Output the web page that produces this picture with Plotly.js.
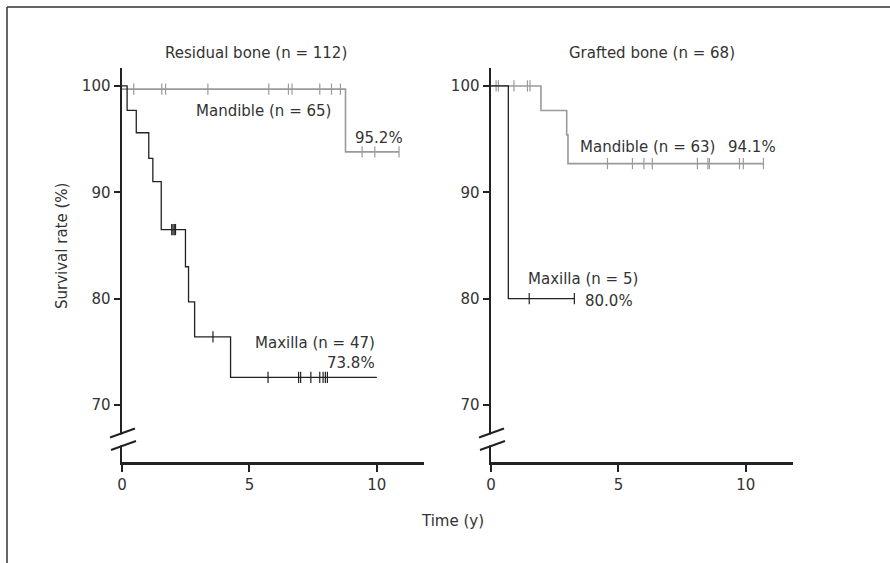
<!DOCTYPE html>
<html>
<head>
<meta charset="utf-8">
<script src="https://cdn.plot.ly/plotly-3.0.1.min.js"></script>
<style>html,body{margin:0;padding:0;background:#fff;}#chart{width:890px;height:563px;}</style>
</head>
<body>
<div id="chart"></div>
<script>
// ---- Data ----
// Residual bone, Maxilla (n = 47): step times (y) and survival (%)
const resMaxT = [0, 0.20, 0.56, 1.05, 1.21, 1.54, 2.49, 2.61, 2.85, 4.26, 10.0];
const resMaxS = [100, 97.7, 95.6, 93.2, 91.0, 86.5, 83.0, 79.7, 76.4, 72.6, 72.6];
const resMaxCens = [1.95, 2.0, 2.05, 2.1, 3.57, 5.73, 6.93, 7.01, 7.41, 7.76, 7.89, 7.98, 8.06];
// Residual bone, Mandible (n = 65)
const resManT = [0, 8.77, 10.87];
const resManS = [99.7, 93.8, 93.8];
const resManCens = [0.46, 1.56, 1.71, 3.37, 5.76, 6.53, 6.67, 7.76, 8.22, 8.57, 9.42, 9.92, 10.87];
// Grafted bone, Mandible (n = 63)
const grfManT = [0, 1.96, 2.97, 3.02, 10.69];
const grfManS = [100, 97.7, 95.4, 92.7, 92.7];
const grfManCens = [0.20, 0.29, 0.90, 1.43, 1.53, 4.57, 5.55, 6.00, 6.33, 8.10, 8.51, 8.57, 9.75, 9.90, 10.69];
// Grafted bone, Maxilla (n = 5)
const grfMaxT = [0, 0.68, 3.27];
const grfMaxS = [100, 80.0, 80.0];
const grfMaxCens = [1.50, 3.27];

const panelTitles = ["Residual bone (n = 112)", "Grafted bone (n = 68)"];
const yTicks = [70, 80, 90, 100];
const xTicks = [0, 5, 10];

// ---- helpers ----
function stepAt(T, S, t) {
  let v = S[0];
  for (let i = 0; i < T.length; i++) { if (T[i] <= t) v = S[i]; }
  return v;
}
const BLACK = '#222222', GRAY = '#9a9a9a', TXT = '#333333';
const FONT = 'DejaVu Sans, Verdana, sans-serif';

function curve(T, S, color, w, xa, ya) {
  return {x: T, y: S, type: 'scatter', mode: 'lines', line: {shape: 'hv', color: color, width: w},
          xaxis: xa, yaxis: ya, hoverinfo: 'skip', showlegend: false, cliponaxis: false};
}
function cens(T, S, C, color, xa, ya) {
  return {x: C, y: C.map(t => stepAt(T, S, t)), type: 'scatter', mode: 'markers',
          marker: {symbol: 'line-ns-open', size: 8, color: color, line: {color: color, width: 1.2}},
          xaxis: xa, yaxis: ya, hoverinfo: 'skip', showlegend: false, cliponaxis: false};
}

const traces = [
  curve(resManT, resManS, GRAY, 1.6, 'x', 'y'),
  cens(resManT, resManS, resManCens, GRAY, 'x', 'y'),
  curve(resMaxT, resMaxS, BLACK, 1.3, 'x', 'y'),
  cens(resMaxT, resMaxS, resMaxCens, BLACK, 'x', 'y'),
  curve(grfManT, grfManS, GRAY, 1.6, 'x2', 'y2'),
  cens(grfManT, grfManS, grfManCens, GRAY, 'x2', 'y2'),
  curve(grfMaxT, grfMaxS, BLACK, 1.3, 'x2', 'y2'),
  cens(grfMaxT, grfMaxS, grfMaxCens, BLACK, 'x2', 'y2')
];

const W = 890, H = 563;
const px = v => v / W, py = v => 1 - v / H;

function xax(d0, d1, anchor) {
  return {domain: [px(d0), px(d1)], range: [0, 11.85], anchor: anchor, tickvals: xTicks,
          showline: true, linecolor: BLACK, linewidth: 2.5, ticks: 'outside', ticklen: 7,
          tickwidth: 2, tickcolor: BLACK, showgrid: false, zeroline: false, fixedrange: true,
          tickfont: {family: FONT, size: 15, color: TXT}};
}
function yax(anchor) {
  return {domain: [py(462), py(68)], range: [64.64, 101.69], anchor: anchor, tickvals: yTicks,
          showline: true, linecolor: BLACK, linewidth: 2.5, ticks: 'outside', ticklen: 6,
          tickwidth: 2, tickcolor: BLACK, showgrid: false, zeroline: false, fixedrange: true,
          tickfont: {family: FONT, size: 15, color: TXT}};
}

const shapes = [
  // outer frame (top and left)
  {type: 'line', xref: 'paper', yref: 'paper', x0: px(7), x1: 1, y0: py(7), y1: py(7), line: {color: '#333', width: 1.5}},
  {type: 'line', xref: 'paper', yref: 'paper', x0: px(7), x1: px(7), y0: 0, y1: py(7), line: {color: '#333', width: 1.5}}
];
[122, 491].forEach(ax => {
  shapes.push({type: 'line', xref: 'paper', yref: 'paper', x0: px(ax), x1: px(ax), y0: py(434.5), y1: py(445.5), line: {color: '#fff', width: 5}});
  shapes.push({type: 'line', xref: 'paper', yref: 'paper', x0: px(ax - 12), x1: px(ax + 13), y0: py(437.5), y1: py(428.5), line: {color: BLACK, width: 2}});
  shapes.push({type: 'line', xref: 'paper', yref: 'paper', x0: px(ax - 11), x1: px(ax + 14), y0: py(450), y1: py(441), line: {color: BLACK, width: 2}});
});

const af = {family: FONT, size: 15, color: TXT};
const annotations = [
  {xref: 'paper', yref: 'paper', x: px(256), y: py(53), text: panelTitles[0], showarrow: false, xanchor: 'center', yanchor: 'middle', font: af},
  {xref: 'paper', yref: 'paper', x: px(652), y: py(53), text: panelTitles[1], showarrow: false, xanchor: 'center', yanchor: 'middle', font: af},
  {xref: 'paper', yref: 'paper', x: px(62), y: py(246), text: 'Survival rate (%)', textangle: -90, showarrow: false, xanchor: 'center', yanchor: 'middle', font: af},
  {xref: 'paper', yref: 'paper', x: px(452), y: py(521), text: 'Time (y)', showarrow: false, xanchor: 'center', yanchor: 'middle', font: af},
  {xref: 'x', yref: 'y', x: 5.54, y: 97.6, text: 'Mandible (n = 65)', showarrow: false, xanchor: 'center', yanchor: 'middle', font: af},
  {xref: 'x', yref: 'y', x: 9.08, y: 95.1, text: '95.2%', showarrow: false, xanchor: 'left', yanchor: 'middle', font: af},
  {xref: 'x', yref: 'y', x: 10.01, y: 75.85, text: 'Maxilla (n = 47)', showarrow: false, xanchor: 'right', yanchor: 'middle', font: af},
  {xref: 'x', yref: 'y', x: 10.01, y: 73.95, text: '73.8%', showarrow: false, xanchor: 'right', yanchor: 'middle', font: af},
  {xref: 'x2', yref: 'y2', x: 3.42, y: 94.26, text: 'Mandible (n = 63)', showarrow: false, xanchor: 'left', yanchor: 'middle', font: af},
  {xref: 'x2', yref: 'y2', x: 9.23, y: 94.26, text: '94.1%', showarrow: false, xanchor: 'left', yanchor: 'middle', font: af},
  {xref: 'x2', yref: 'y2', x: 1.37, y: 81.82, text: 'Maxilla (n = 5)', showarrow: false, xanchor: 'left', yanchor: 'middle', font: af},
  {xref: 'x2', yref: 'y2', x: 3.62, y: 79.8, text: '80.0%', showarrow: false, xanchor: 'left', yanchor: 'middle', font: af}
];

const layout = {
  width: W, height: H, margin: {l: 0, r: 0, t: 0, b: 0},
  paper_bgcolor: '#fff', plot_bgcolor: '#fff', showlegend: false,
  font: {family: FONT, color: TXT},
  xaxis: xax(122, 424, 'y'), yaxis: yax('x'),
  xaxis2: xax(491, 793, 'y2'), yaxis2: yax('x2'),
  shapes: shapes, annotations: annotations
};
Plotly.newPlot('chart', traces, layout, {displayModeBar: false, staticPlot: true});
</script>
</body>
</html>
